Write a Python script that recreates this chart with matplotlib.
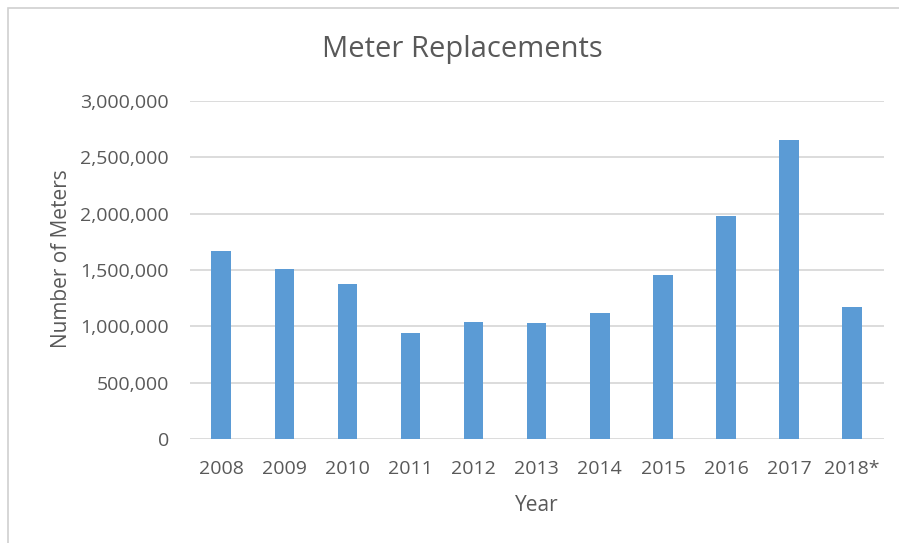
import matplotlib.pyplot as plt
from matplotlib.patches import Rectangle
from matplotlib.ticker import FuncFormatter

# Values
years = ["2008", "2009", "2010", "2011", "2012", "2013",
         "2014", "2015", "2016", "2017", "2018*"]
meters = [1665000, 1506000, 1377000, 937000, 1042000, 1033000,
          1118000, 1455000, 1975000, 2655000, 1173000]
y_ticks = [0, 500000, 1000000, 1500000, 2000000, 2500000, 3000000]

text_color = "#595959"
grid_color = "#D9D9D9"
bar_color = "#5B9BD5"

plt.rcParams["font.family"] = ["Open Sans", "DejaVu Sans"]

fig = plt.figure(figsize=(8.99, 5.43), dpi=100)
ax = fig.add_axes([0.211, 0.1915, 0.772, 0.6225])

# Light frame around the chart, like an Excel chart area
fig.patches.append(Rectangle((0.009, -0.1), 1.5, 1.085, transform=fig.transFigure,
                             fill=False, edgecolor="#D0D0D0", linewidth=1.2))

x = range(len(years))
ax.bar(x, meters, width=0.31, color=bar_color, zorder=3)

ax.set_ylim(0, 3000000)
ax.set_xlim(-0.5, len(years) - 0.5)
ax.set_yticks(y_ticks)
ax.yaxis.set_major_formatter(FuncFormatter(lambda v, p: f"{int(v):,}"))
ax.set_xticks(list(x))
ax.set_xticklabels(years)

ax.grid(axis="y", color=grid_color, linewidth=1.3, zorder=0)
for side in ["top", "right", "left", "bottom"]:
    ax.spines[side].set_visible(False)
ax.tick_params(length=0, labelsize=14, colors=text_color)
ax.tick_params(axis="y", pad=15)
ax.tick_params(axis="x", pad=15)

ax.set_xlabel("Year", fontsize=15, color=text_color, labelpad=12)
ax.set_ylabel("Number of Meters", fontsize=15, color=text_color)
ax.yaxis.set_label_coords(-0.170, 0.535)
fig.text(462 / 899, 1 - 50 / 543, "Meter Replacements", fontsize=21,
         color=text_color, ha="center", va="center")

plt.savefig("out.png", dpi=100)
